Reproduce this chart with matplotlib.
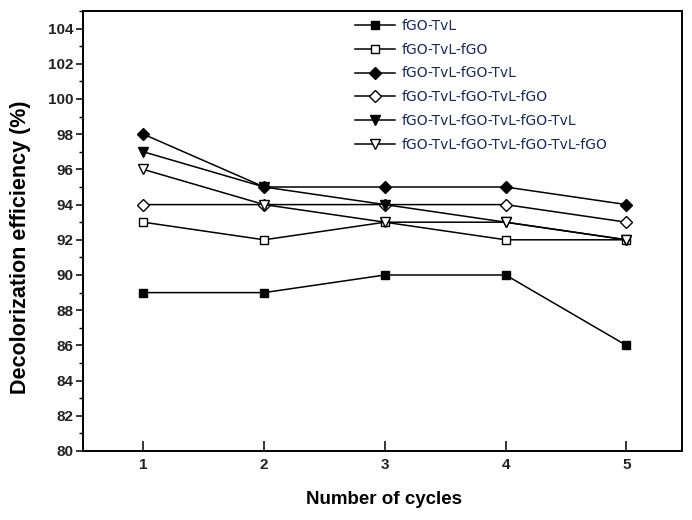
import matplotlib
matplotlib.use("Agg")
import matplotlib.pyplot as plt
from matplotlib.ticker import MultipleLocator

plt.rcParams['font.family'] = ['Liberation Sans', 'DejaVu Sans']

cycles = [1, 2, 3, 4, 5]
labels = ["fGO-TvL", "fGO-TvL-fGO", "fGO-TvL-fGO-TvL", "fGO-TvL-fGO-TvL-fGO",
          "fGO-TvL-fGO-TvL-fGO-TvL", "fGO-TvL-fGO-TvL-fGO-TvL-fGO"]
s1 = [89, 89, 90, 90, 86]
s2 = [93, 92, 93, 92, 92]
s3 = [98, 95, 95, 95, 94]
s4 = [94, 94, 94, 94, 93]
s5 = [97, 95, 94, 93, 92]
s6 = [96, 94, 93, 93, 92]
series = [s1, s2, s3, s4, s5, s6]
markers = ['s', 's', 'D', 'D', 'v', 'v']
fills = [True, False, True, False, True, False]
msizes = [6, 6, 5.8, 5.8, 7.5, 7.5]

fig = plt.figure(figsize=(6.92, 5.2), dpi=100)
ax = fig.add_axes([83/692, 1 - 451/520, 599/692, 440/520])

for y, lab, m, f, ms in zip(series, labels, markers, fills, msizes):
    ax.plot(cycles, y, color='black', linewidth=1.1, marker=m, markersize=ms,
            markerfacecolor='black' if f else 'white', markeredgecolor='black',
            markeredgewidth=1.0, label=lab)

ax.set_xlim(0.5, 5.46)
ax.set_ylim(80, 105)
ax.set_xticks(cycles)
ax.set_yticks(list(range(80, 105, 2)))
ax.yaxis.set_minor_locator(MultipleLocator(1))
ax.tick_params(axis='x', which='major', direction='in', length=7, width=1.1,
               labelsize=11, pad=5)
ax.tick_params(axis='y', which='major', direction='out', length=5, width=1.1,
               labelsize=11, pad=2)
ax.tick_params(axis='y', which='minor', direction='out', length=3, width=1)
for lbl in ax.get_xticklabels() + ax.get_yticklabels():
    lbl.set_fontweight('bold')
    lbl.set_color('#222222')
for sp in ax.spines.values():
    sp.set_linewidth(1.4)

ax.set_ylabel("Decolorization efficiency (%)", fontsize=15.5, fontweight='bold')
ax.yaxis.set_label_coords(-0.087, 0.463)
ax.set_xlabel("Number of cycles", fontsize=13.5, fontweight='bold')
ax.xaxis.set_label_coords(0.503, -0.091)

leg = ax.legend(loc='upper left', bbox_to_anchor=(355/692, 1 - 19/520),
                bbox_transform=fig.transFigure, frameon=False,
                prop={'family': 'DejaVu Sans', 'size': 10},
                handlelength=2.88, labelspacing=0.70, handletextpad=0.5,
                borderpad=0, borderaxespad=0)
for t in leg.get_texts():
    t.set_color('#1a2a55')

fig.savefig("out.png", dpi=100)
